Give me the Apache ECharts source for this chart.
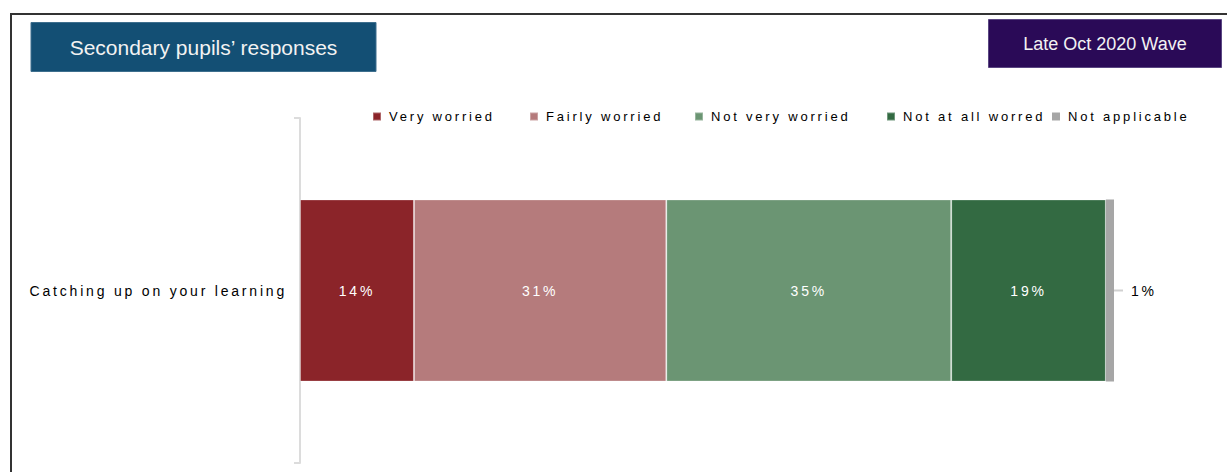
<!DOCTYPE html>
<html>
<head>
<meta charset="utf-8">
<script src="https://cdn.jsdelivr.net/npm/echarts@6/dist/echarts.min.js"></script>
<style>
  html, body { margin: 0; padding: 0; background: #ffffff; }
  #wrap { position: relative; width: 1227px; height: 472px; overflow: hidden; }
  #frame { position: absolute; left: 10px; top: 13px; width: 1240px; height: 480px;
           border-top: 2px solid #333333; border-left: 2px solid #333333; }
  #chart { position: absolute; left: 0; top: 0; width: 1227px; height: 472px; }
  #chart text[style*="Arial"] { letter-spacing: 2.8px; }
</style>
</head>
<body>
<div id="wrap">
  <div id="frame"></div>
  <div id="chart"></div>
</div>
<script>
// ---- data ----
const categories = ['Catching up on your learning'];
const seriesNames = ['Very worried', 'Fairly worried', 'Not very worried', 'Not at all worred', 'Not applicable'];
const veryWorried = [14];
const fairlyWorried = [31];
const notVeryWorried = [35];
const notAtAllWorried = [19];
const notApplicable = [1];
const titleLeft = 'Secondary pupils\u2019 responses';
const titleRight = 'Late Oct 2020 Wave';

// ---- styles ----
const colors = ['#8B2429', '#B57B7C', '#6B9573', '#336A42', '#A6A6A6'];
const chartFont = 'Arial, "Liberation Sans", sans-serif';
const titleFont = '"Liberation Sans", sans-serif';
const legendLefts = [372, 529, 694, 886, 1052];

const chart = echarts.init(document.getElementById('chart'), null, { renderer: 'svg' });

const seriesData = [veryWorried, fairlyWorried, notVeryWorried, notAtAllWorried, notApplicable];

const series = seriesNames.map((name, i) => {
  const isLast = i === seriesNames.length - 1;
  return {
    name: name,
    type: 'bar',
    stack: 'total',
    data: seriesData[i],
    barWidth: '52.8%',
    itemStyle: { color: colors[i], borderColor: 'rgba(255,255,255,0.3)', borderWidth: isLast ? 0 : 1 },
    label: isLast ? {
      show: true,
      position: 'right',
      distance: 0,
      formatter: p => '{l|}{v|' + p.value + '%}',
      rich: {
        l: { width: 9, height: 2, backgroundColor: '#d0d0d0' },
        v: { padding: [0, 0, 0, 8], fontSize: 14, color: '#000', fontFamily: chartFont }
      }
    } : {
      show: true,
      position: 'inside',
      color: '#ffffff',
      fontSize: 14,
      fontFamily: chartFont,
      formatter: p => p.value + '%'
    },
    emphasis: { disabled: true }
  };
});

const legends = seriesNames.map((name, i) => ({
  data: [name],
  left: legendLefts[i],
  top: 110,
  itemWidth: 8,
  itemHeight: 8,
  icon: 'rect',
  padding: 0,
  textStyle: { fontSize: 13, color: '#000', fontFamily: chartFont, padding: [0, 0, 0, 3] }
}));

const option = {
  animation: false,
  color: colors,
  textStyle: { fontFamily: chartFont },
  title: [
    {
      text: titleLeft,
      left: 203.5,
      top: 22,
      textAlign: 'center',
      padding: 0,
      backgroundColor: '#134F74',
      borderColor: '#3E6F8E',
      borderWidth: 1,
      textStyle: { color: '#F2F2F2', fontSize: 21, fontWeight: 'normal', fontFamily: titleFont,
                   width: 345, height: 50, lineHeight: 50 }
    },
    {
      text: titleRight,
      left: 1105,
      top: 19,
      textAlign: 'center',
      padding: 0,
      backgroundColor: '#2A0A57',
      borderColor: '#5A4682',
      borderWidth: 1,
      textStyle: { color: '#F2F2F2', fontSize: 18, fontWeight: 'normal', fontFamily: titleFont,
                   width: 234, height: 49, lineHeight: 49 }
    }
  ],
  legend: legends,
  grid: { left: 300, right: 113, top: 118, bottom: 9, containLabel: false },
  xAxis: { type: 'value', min: 0, max: 100, show: false },
  yAxis: {
    type: 'category',
    data: categories,
    axisLine: { show: true, lineStyle: { color: '#dcdcdc', width: 2 } },
    axisTick: { show: true, length: 6, lineStyle: { color: '#dcdcdc', width: 2 } },
    axisLabel: { fontSize: 14, color: '#000', margin: 13, fontFamily: chartFont }
  },
  series: series
};

chart.setOption(option);
</script>
</body>
</html>
